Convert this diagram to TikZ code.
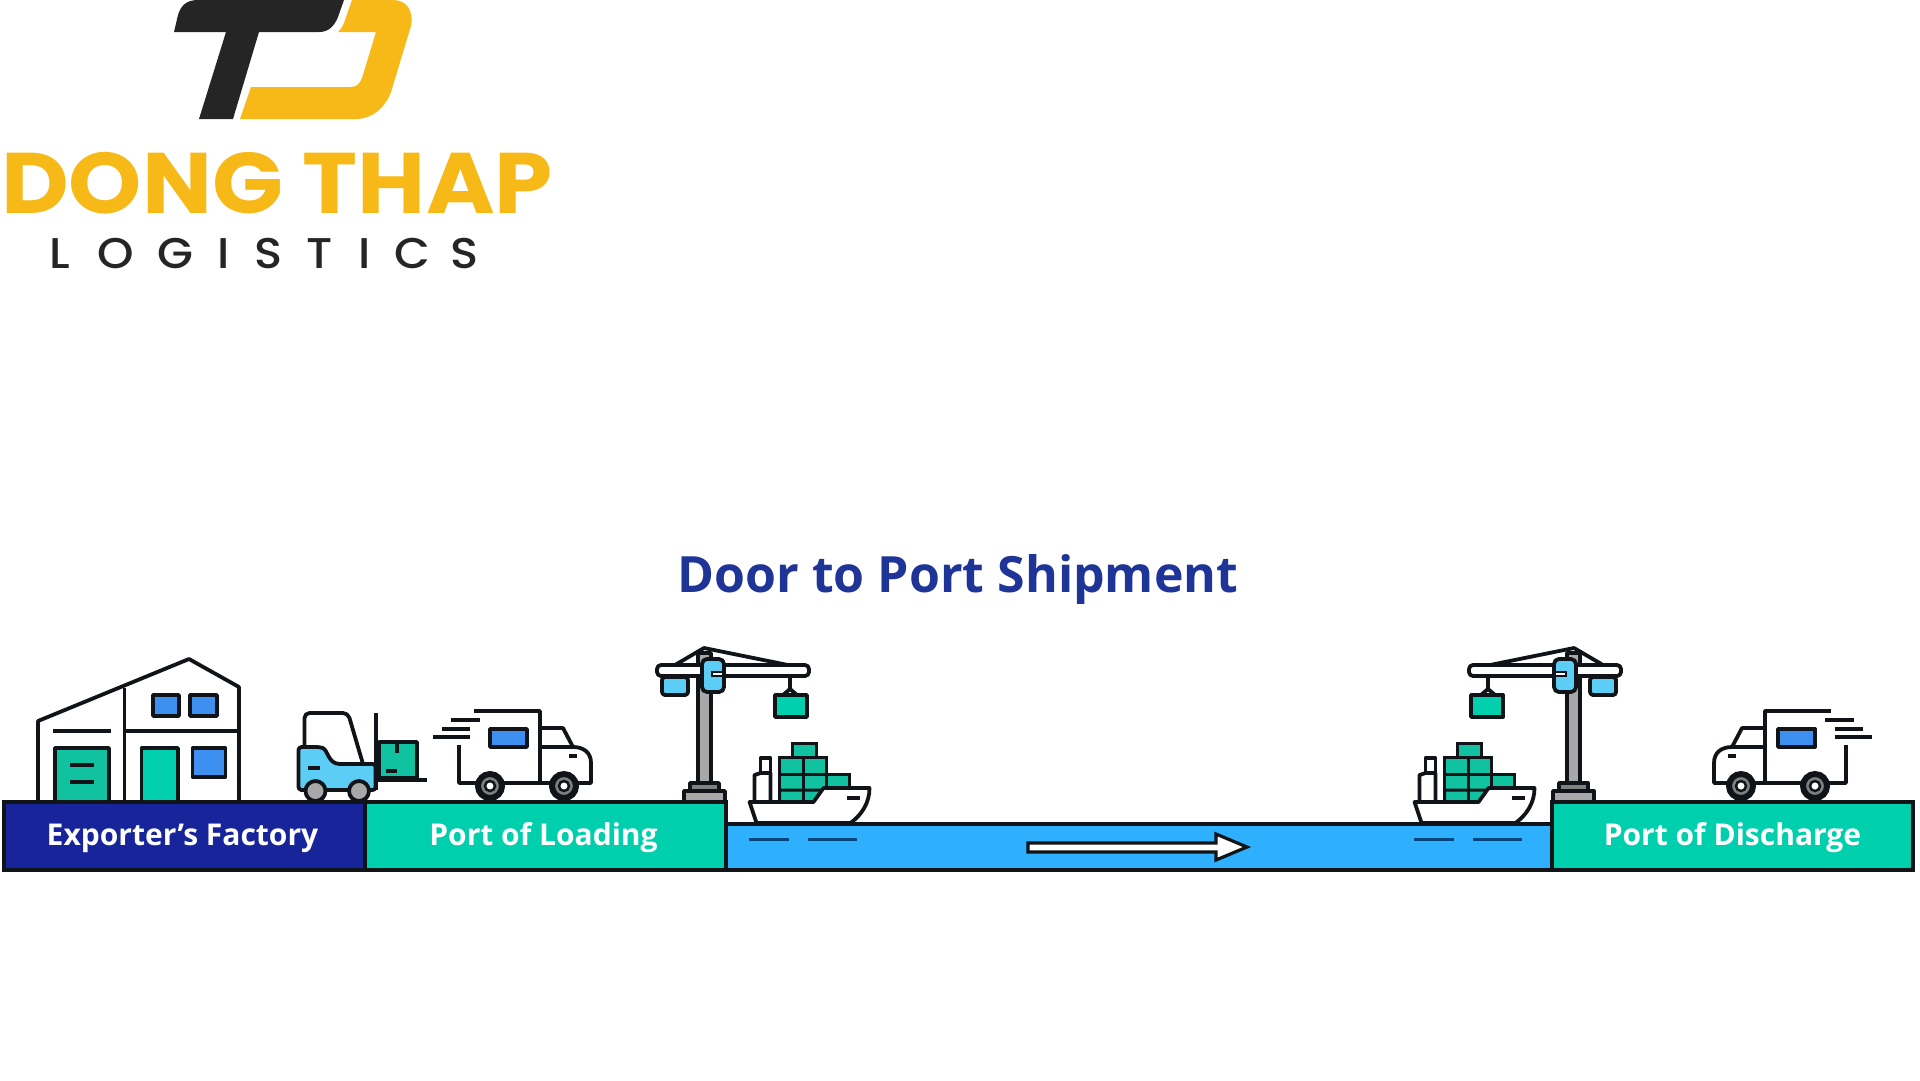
\documentclass[tikz,border=0pt]{standalone}
\usepackage{fontspec}
\newfontfamily\brandfont[FakeStretch=1.083]{Poppins}
\newfontfamily\logofont[FakeStretch=1.08]{Poppins Medium}
\newfontfamily\labelfont{Open Sans}
\definecolor{logoblack}{HTML}{252525}
\definecolor{logoyellow}{HTML}{F6B918}
\definecolor{titleblue}{HTML}{1E3497}
\definecolor{navyblue}{HTML}{17249A}
\definecolor{teal}{HTML}{00CFAE}
\definecolor{boxgreen}{HTML}{10C29F}
\definecolor{seablue}{HTML}{2FB0FF}
\definecolor{skyblue}{HTML}{5CCDF5}
\definecolor{winblue}{HTML}{3D8FF0}
\definecolor{steel}{HTML}{A8A8A8}
\definecolor{wavecolor}{HTML}{00457C}
\definecolor{ink}{HTML}{101418}
\tikzset{
	line/.style={draw=ink, line width=3.8pt, line join=round},
	bar/.style={draw=ink, line width=4pt, anchor=north west, inner sep=0pt, outer sep=0pt},
	barlabel/.style={white, yshift=-2pt, font=\labelfont\bfseries\fontsize{30}{30}\selectfont},
	wave/.style={draw=wavecolor, line width=3pt},
}
\newcommand{\truck}{
	\draw[line] (474,711) -- (540,711) -- (540,783);
	\draw[line] (451,720) -- (480,720);
	\draw[line] (442,729) -- (470,729);
	\draw[line] (433,737) -- (470,737);
	\draw[line] (459,745) -- (459,783) -- (591,783) -- (591,763)
		.. controls (591,752) and (583,747) .. (573,747) -- (540,747);
	\draw[line] (540,728) -- (563,728) -- (573,747);
	\draw[line, fill=winblue] (490,729) rectangle (527,747);
	\draw[line] (569,756) -- (577,756);
	\foreach \x in {490,564}
	{
		\draw[draw=ink, line width=6pt, fill=gray] (\x,786) circle [radius=12pt];
		\draw[draw=ink, line width=2.5pt, fill=white] (\x,786) circle [radius=5pt];
	}
}
\newcommand{\crane}{
	\draw[line, fill=steel] (698,653) rectangle (711,785);
	\draw[line] (675,665) -- (704,648) -- (788,665);
	\draw[line] (698,650) -- (698,665);
	\draw[line, fill=white, rounded corners=4pt] (657,665) rectangle (809,676);
	\draw[line, fill=skyblue, rounded corners=3pt] (662,677) -- (662,695) -- (688,695) -- (688,677) -- cycle;
	\draw[line, fill=skyblue, rounded corners=5pt] (702,659) rectangle (724,692);
	\draw[draw=ink, line width=2pt, fill=white] (712,672) rectangle (723,676);
	\draw[line] (790,676) -- (790,689) -- (783,695);
	\draw[line] (790,689) -- (797,695);
	\draw[line, fill=teal] (775,695) rectangle (807,717);
	\draw[line, fill=gray] (690,783) rectangle (719,791);
	\draw[line, fill=steel] (684,791) rectangle (725,802);
}
\newcommand{\ship}{
	\draw[line, fill=white] (759,758) rectangle (769,773);
	\draw[line] (753,802) -- (753,775) -- (759,773) -- (769,773) -- (769,802);
	\foreach \x/\y/\w in {791/743/24,778/757/24,802/757/23,778/774/24,802/774/23,825/774/23}
	{
		\draw[draw=ink, line width=3pt, fill=boxgreen] (\x,\y) rectangle ++(\w,{\y==743 ? 14 : (\y==757 ? 17 : 16)});
	}
	\draw[draw=ink, line width=3pt, fill=boxgreen] (778,790) -- (778,802) -- (812,802) -- (822,790) -- cycle;
	\draw[draw=ink, line width=3pt] (802,790) -- (802,802);
	\draw[line, fill=white] (748,802) -- (812,802) -- (822,788) -- (868,788)
		.. controls (868,803) and (860,815) .. (849,823) -- (755,823) -- cycle;
	\draw[line] (845,798) -- (858,798);
	\draw[wave] (747,839) -- (787,839);
	\draw[wave] (806,839) -- (855,839);
}
\begin{document}
\begin{tikzpicture}[x=1pt, y=-1pt]
	\useasboundingbox (0,0) rectangle (1920,1080);
	\fill[logoblack] (344,0) -- (338,17) .. controls (334,27) and (328,32) .. (319,32) -- (259,32)
		-- (233,119) -- (199,119) -- (226,32) -- (174,32) -- (178,15) .. controls (181,5) and (187,0) .. (198,0) -- cycle;
	\fill[logoyellow] (352,0) -- (393,0) .. controls (406,0) and (414,10) .. (411,26) -- (391,92)
		.. controls (385,108) and (372,119) .. (356,119) -- (240,119) -- (251,87) -- (351,87)
		.. controls (357,87) and (360,83) .. (362,78) -- (376,32) -- (338,32)
		.. controls (342,28) and (344,24) .. (345,20) -- cycle;
	\node[logoyellow, anchor=base, font=\brandfont\bfseries\fontsize{86}{86}\selectfont] (brand) at (277,213) {DONG THAP};
	\foreach \x/\c [count=\i] in {60/L,116/O,175/G,224/I,269/S,320/T,365/I,412/C,465/S}
	{
		\node[logoblack, anchor=base, font=\logofont\fontsize{43}{43}\selectfont] (sub\i) at (\x,268) {\c};
	}
	\node[titleblue, anchor=base, font=\labelfont\bfseries\fontsize{50}{50}\selectfont] (title) at (958,592) {Door to Port Shipment};
	% factory
	\draw[line, fill=white] (38,802) -- (38,721) -- (189,659) -- (239,687) -- (239,802);
	\draw[line] (124.5,688) -- (124.5,802);
	\draw[line] (124.5,731) -- (239,731);
	\draw[line] (53,731) -- (111,731);
	\draw[line, fill=boxgreen] (55,748) rectangle (109,802);
	\draw[line] (70,765) -- (94,765);
	\draw[line] (70,782) -- (94,782);
	\draw[line, fill=teal] (141.5,748) rectangle (178,802);
	\foreach \x/\y/\w/\h in {153/695/26/21,190/695/27/21,192.5/748/33/29}
	{
		\draw[line, fill=winblue] (\x,\y) rectangle ++(\w,\h);
	}
	% forklift
	\draw[line, rounded corners=5pt] (304.5,747) -- (304.5,713) -- (348,713) -- (363,764);
	\draw[line] (375.6,713) -- (375.6,790);
	\draw[line, fill=boxgreen] (379,742) rectangle (417,778);
	\draw[line] (396.6,742) -- (396.6,753);
	\draw[line] (385.5,771) -- (397.4,771);
	\draw[line] (375.6,780) -- (427,780);
	\draw[line, fill=skyblue, rounded corners=3pt] (298.5,790) -- (298.5,747) -- (320,747)
		.. controls (328,750) and (328,764) .. (343,764) -- (375.6,764) -- (375.6,790) -- cycle;
	\draw[line] (307.6,768) -- (319.5,768);
	\foreach \x in {315.5,359}
	{
		\draw[line, fill=steel] (\x,791) circle [radius=10pt];
	}
	% left and right
	\truck
	\begin{scope}[xshift=2305pt, xscale=-1]
		\truck
	\end{scope}
	\crane
	\begin{scope}[xshift=2278pt, xscale=-1]
		\crane
	\end{scope}
	\node[bar, fill=seablue, minimum width=826pt, minimum height=46pt] (sea) at (726,824) {};
	\begin{scope}[xshift=1.5pt]
		\ship
	\end{scope}
	\begin{scope}[xshift=666.5pt]
		\ship
	\end{scope}
	\node[bar, fill=navyblue, minimum width=361pt, minimum height=68pt] (factory) at (4,802) {};
	\node[bar, fill=teal, minimum width=361pt, minimum height=68pt] (loading) at (365,802) {};
	\node[bar, fill=teal, minimum width=361pt, minimum height=68pt] (discharge) at (1552,802) {};
	\node[barlabel, xshift=-2pt] (factorytext) at (factory.center) {Exporter’s Factory};
	\node[barlabel, xshift=-2pt] (loadingtext) at (loading.center) {Port of Loading};
	\node[barlabel] (dischargetext) at (discharge.center) {Port of Discharge};
	\draw[draw=ink, line width=3.2pt, fill=white] (1028,843) -- (1216,843) -- (1216,834) -- (1247,847)
		-- (1216,860) -- (1216,852) -- (1028,852) -- cycle;
\end{tikzpicture}
\end{document}
